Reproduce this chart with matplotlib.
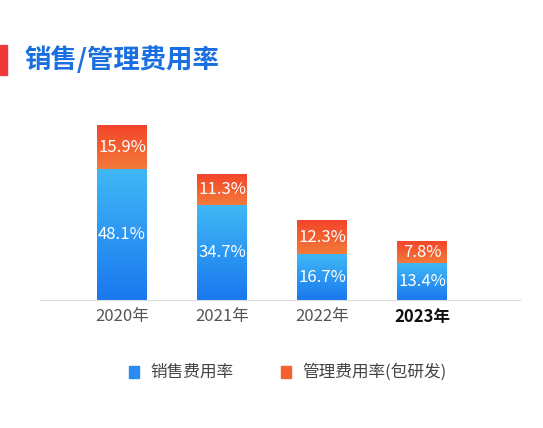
import matplotlib
matplotlib.use("Agg")
import matplotlib.pyplot as plt
import numpy as np
from matplotlib.patches import Rectangle
from matplotlib.colors import LinearSegmentedColormap
plt.rcParams['font.family'] = ['Noto Sans CJK SC', 'DejaVu Sans']

years = ["2020年", "2021年", "2022年", "2023年"]
sales = [48.1, 34.7, 16.7, 13.4]
admin = [15.9, 11.3, 12.3, 7.8]

fig = plt.figure(figsize=(5.43, 4.28), dpi=100)
ax = fig.add_axes([40/543, 128/428, 480/543, 191/428])
w = 0.5
grad = np.linspace(0, 1, 100).reshape(-1, 1)
bcm = LinearSegmentedColormap.from_list("b", ["#1a78ee", "#40b8f6"])
ocm = LinearSegmentedColormap.from_list("o", ["#f47a3a", "#f2452a"])
for i, (s, a) in enumerate(zip(sales, admin)):
    ax.imshow(grad, cmap=bcm, aspect='auto', origin='lower',
              extent=[i - w/2, i + w/2, 0, s], zorder=2)
    ax.imshow(grad, cmap=ocm, aspect='auto', origin='lower',
              extent=[i - w/2, i + w/2, s, s + a], zorder=2)
    ax.text(i, s/2, f"{s}%", ha='center', va='center', color='white', fontsize=12, zorder=3)
    ax.text(i, s + a/2, f"{a}%", ha='center', va='center', color='white', fontsize=12, zorder=3)
ax.set_xlim(-0.82, 3.98)
ax.set_ylim(0, 70)
for sp in ['top', 'right', 'left']:
    ax.spines[sp].set_visible(False)
ax.spines['bottom'].set_color('#dddddd')
ax.set_yticks([])
ax.set_xticks(range(4))
ax.set_xticklabels(years, fontsize=12)
ax.tick_params(axis='x', length=0, pad=6)
for i, lab in enumerate(ax.get_xticklabels()):
    lab.set_color('#111111' if i == 3 else '#555555')
    if i == 3:
        lab.set_fontweight('bold')

fig.text(24/543, 1 - 60/428, "销售/管理费用率", fontsize=19, fontweight='bold',
         color='#1a6fe0', va='center', ha='left')
fig.patches.append(Rectangle((0, 1 - 75/428), 7/543, 30/428, transform=fig.transFigure,
                             color='#f03a3a', figure=fig))
fig.patches.append(Rectangle((129/543, 1 - 378/428), 10/543, 12/428, transform=fig.transFigure,
                             color='#2a8cf0', figure=fig))
fig.patches.append(Rectangle((281/543, 1 - 378/428), 10/543, 12/428, transform=fig.transFigure,
                             color='#f4602e', figure=fig))
fig.text(150/543, 1 - 372/428, "销售费用率", fontsize=12, color='#444444', va='center')
fig.text(302/543, 1 - 372/428, "管理费用率(包研发)", fontsize=12, color='#444444', va='center')
fig.savefig("out.png", dpi=100)
